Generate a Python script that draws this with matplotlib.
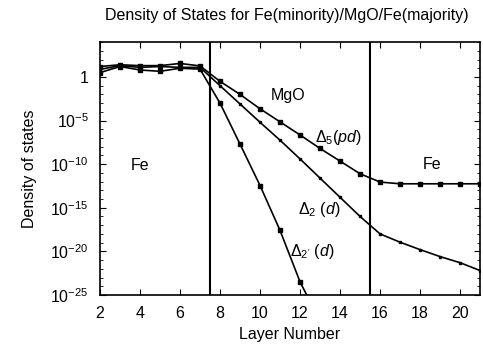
import matplotlib
matplotlib.use("Agg")
import matplotlib.pyplot as plt
import numpy as np
from matplotlib.ticker import FixedLocator, FuncFormatter, NullFormatter

plt.rcParams['font.family'] = ['Liberation Sans', 'DejaVu Sans']
plt.rcParams['mathtext.fontset'] = 'custom'
plt.rcParams['mathtext.rm'] = 'Liberation Sans'
plt.rcParams['mathtext.it'] = 'Liberation Sans:italic'

# layer numbers
layers_d5 = [2, 3, 4, 5, 6, 7, 8, 9, 10, 11, 12, 13, 14, 15, 16, 17, 18, 19, 20, 21]
log_d5 = [1.2, 1.4, 1.3, 1.3, 1.55, 1.27, -0.5, -2.0, -3.65, -5.15, -6.65, -8.2, -9.65, -11.1,
          -12.05, -12.25, -12.25, -12.25, -12.25, -12.25]

layers_d2 = [2, 3, 4, 5, 6, 7, 8, 9, 10, 11, 12, 13, 14, 15, 16, 17, 18, 19, 20, 21]
log_d2 = [0.87, 1.3, 1.1, 1.2, 1.1, 1.1, -1.0, -3.1, -5.2, -7.25, -9.4, -11.6, -13.8, -16.0,
          -18.0, -18.95, -19.8, -20.6, -21.3, -22.2]

layers_d2p = [2, 3, 4, 5, 6, 7, 8, 9, 10, 11, 12, 13]
log_d2p = [0.5, 1.2, 0.8, 0.65, 1.0, 0.9, -3.0, -7.7, -12.45, -17.6, -23.5, -28.0]

interfaces = [7.5, 15.5]
ytick_exps = [0, -5, -10, -15, -20, -25]
xticks = [2, 4, 6, 8, 10, 12, 14, 16, 18, 20]

fig = plt.figure(figsize=(4.83, 3.45), dpi=100)
ax = fig.add_axes([0.207, 0.145, 0.787, 0.733])

for xs, ls, ms in [(layers_d5, log_d5, 2.6), (layers_d2, log_d2, 2.0), (layers_d2p, log_d2p, 2.8)]:
    ax.plot(xs, 10.0 ** np.array(ls), color='black', lw=1.2, marker='s', ms=ms)

for xv in interfaces:
    ax.axvline(xv, color='black', lw=1.5)

ax.set_yscale('log')
ax.set_xlim(2, 21)
ax.set_ylim(1e-25, 1e4)
ax.set_xticks(xticks)
ax.yaxis.set_major_locator(FixedLocator([10.0 ** e for e in ytick_exps]))
ax.yaxis.set_minor_locator(FixedLocator([10.0 ** e for e in range(-25, 5)]))
ax.yaxis.set_minor_formatter(NullFormatter())
ax.yaxis.set_major_formatter(FuncFormatter(lambda v, p: '1' if abs(np.log10(v)) < 1e-9 else r'$10^{%d}$' % round(np.log10(v))))
ax.tick_params(direction='in', top=True, right=True, labelsize=11.5, length=4, width=0.8)
ax.tick_params(axis='x', pad=8)
ax.tick_params(axis='y', pad=8)
ax.tick_params(which='minor', direction='in', right=True, left=True, length=2, width=0.6)

ax.set_xlabel('Layer Number', fontsize=11.5, labelpad=4)
ax.set_ylabel('Density of states', fontsize=11.5, labelpad=10)
fig.text(0.594, 0.955, 'Density of States for Fe(minority)/MgO/Fe(majority)', ha='center', va='center', fontsize=11.5)

ax.text(11.4, 10 ** -2.1, 'MgO', ha='center', va='center', fontsize=11.5)
ax.text(4.0, 10 ** -10.2, 'Fe', ha='center', va='center', fontsize=11.5)
ax.text(18.6, 10 ** -10.0, 'Fe', ha='center', va='center', fontsize=11.5)
ax.text(12.75, 10 ** -6.95, r'$\Delta_5$($pd$)', ha='left', va='center', fontsize=11.5)
ax.text(11.9, 10 ** -15.2, r'$\Delta_2$ ($d$)', ha='left', va='center', fontsize=11.5)
ax.text(11.5, 10 ** -20.0, r"$\Delta_{2'}$ ($d$)", ha='left', va='center', fontsize=11.5)

for s in ax.spines.values():
    s.set_linewidth(1.2)

fig.savefig('out.png', dpi=100)
